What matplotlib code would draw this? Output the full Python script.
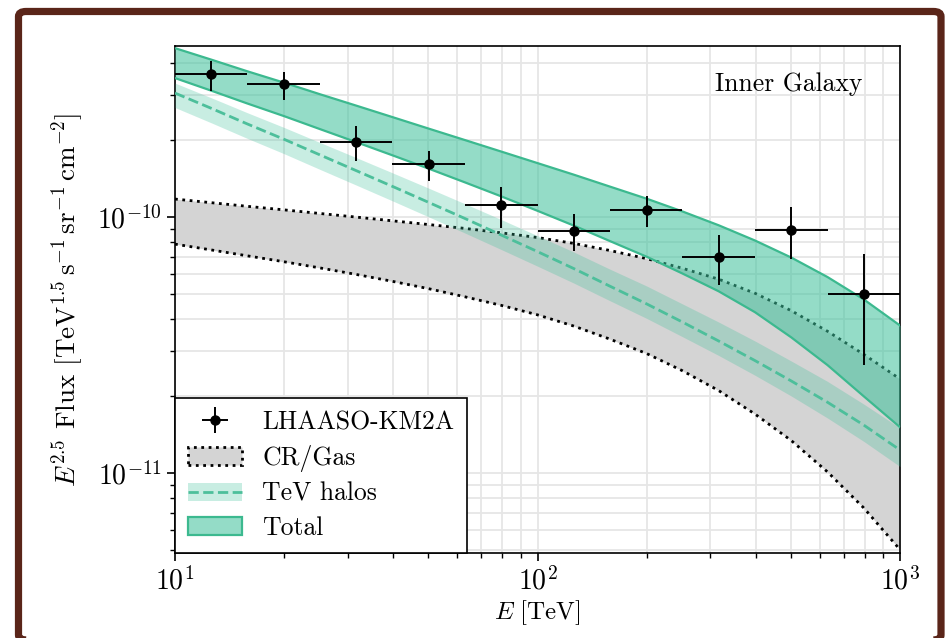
import matplotlib
matplotlib.use("Agg")
import numpy as np
import matplotlib.pyplot as plt
from matplotlib.patches import Patch, FancyBboxPatch
from matplotlib.lines import Line2D
from matplotlib.ticker import LogLocator, NullFormatter
from matplotlib.colors import to_rgba

plt.rcParams.update({
    "font.family": "serif",
    "font.serif": ["cmr10"],
    "mathtext.fontset": "cm",
    "axes.formatter.use_mathtext": True,
    "font.size": 18,
})

# LHAASO-KM2A points (E^2.5 flux), with energy bin edges
E_pts = [12.6, 20.0, 31.6, 50.1, 79.4, 126, 200, 316, 501, 794]
E_lo = [10.0, 15.8, 25.1, 39.8, 63.1, 100, 158, 251, 398, 631]
E_hi = [15.8, 25.1, 39.8, 63.1, 100, 158, 251, 398, 631, 1000]
F_pts = [3.62e-10, 3.30e-10, 1.97e-10, 1.61e-10, 1.11e-10, 8.84e-11, 1.065e-10, 6.96e-11, 8.9e-11, 4.99e-11]
F_up = [4.08e-10, 3.69e-10, 2.27e-10, 1.815e-10, 1.306e-10, 1.027e-10, 1.208e-10, 8.5e-11, 1.09e-10, 7.15e-11]
F_dn = [3.10e-10, 2.86e-10, 1.66e-10, 1.38e-10, 9.03e-11, 7.38e-11, 9.16e-11, 5.41e-11, 6.84e-11, 2.64e-11]

# model bands, in units of 1e-10
E_model = [10, 12.6, 15.8, 20, 25.1, 31.6, 39.8, 50.1, 63.1, 79.4, 100,
           126, 158, 200, 251, 316, 398, 501, 631, 794, 1000]
total_hi = [4.571, 4.121, 3.715, 3.350, 3.020, 2.726, 2.458, 2.216, 1.999, 1.803, 1.625,
            1.464, 1.317, 1.180, 1.052, 0.929, 0.810, 0.695, 0.583, 0.477, 0.377]
total_lo = [3.492, 3.117, 2.781, 2.479, 2.207, 1.963, 1.743, 1.546, 1.366, 1.205, 1.058,
            0.926, 0.807, 0.700, 0.602, 0.513, 0.425, 0.339, 0.264, 0.1995, 0.151]
halo_mid = [3.051, 2.659, 2.314, 2.013, 1.750, 1.519, 1.318, 1.141, 0.987, 0.851, 0.733,
            0.629, 0.538, 0.458, 0.389, 0.328, 0.275, 0.229, 0.189, 0.154, 0.123]
halo_hi = [3.338, 2.924, 2.560, 2.239, 1.957, 1.708, 1.489, 1.297, 1.127, 0.978, 0.846,
           0.730, 0.627, 0.538, 0.458, 0.389, 0.328, 0.274, 0.228, 0.186, 0.150]
halo_lo = [2.679, 2.334, 2.032, 1.768, 1.536, 1.334, 1.157, 1.002, 0.866, 0.747, 0.643,
           0.552, 0.472, 0.402, 0.341, 0.288, 0.241, 0.200, 0.164, 0.133, 0.106]
cr_hi = [1.176, 1.138, 1.102, 1.067, 1.033, 1.000, 0.967, 0.935, 0.903, 0.868, 0.832,
         0.789, 0.741, 0.688, 0.631, 0.572, 0.504, 0.431, 0.358, 0.291, 0.233]
cr_lo = [0.784, 0.744, 0.706, 0.669, 0.633, 0.597, 0.561, 0.525, 0.488, 0.452, 0.415,
         0.375, 0.334, 0.293, 0.251, 0.210, 0.170, 0.134, 0.101, 0.0731, 0.0502]
UNIT = 1e-10

GREEN = "#3cc09a"
GREEN_EDGE = "#3cb98f"
HALO_LINE = "#4dbf9b"
GREY = "#d4d4d4"

fig = plt.figure(figsize=(9.48, 6.38), dpi=100)
ax = fig.add_axes([0.1846, 0.1332, 0.7648, 0.7947])

E = np.array(E_model)
u = lambda v: np.array(v) * UNIT

# CR/Gas
ax.fill_between(E, u(cr_lo), u(cr_hi), color=GREY, lw=0, zorder=1)
for edge in (cr_lo, cr_hi):
    ax.plot(E, u(edge), color="k", ls=":", lw=2, zorder=2)

# TeV halos
ax.fill_between(E, u(halo_lo), u(halo_hi), color=to_rgba(GREEN, 0.28), lw=0, zorder=3)
ax.plot(E, u(halo_mid), color=HALO_LINE, ls="--", lw=2, zorder=3)

# Total
ax.fill_between(E, u(total_lo), u(total_hi), color=to_rgba(GREEN, 0.55), lw=0, zorder=4)
for edge in (total_lo, total_hi):
    ax.plot(E, u(edge), color=GREEN_EDGE, lw=1.6, zorder=4)

Ep = np.array(E_pts); Fp = np.array(F_pts)
xerr = [Ep - np.array(E_lo), np.array(E_hi) - Ep]
yerr = [Fp - np.array(F_dn), np.array(F_up) - Fp]
h_data = ax.errorbar(Ep, Fp, xerr=xerr, yerr=yerr, fmt="o", color="k", ms=6.5,
                     elinewidth=1.4, capsize=0, zorder=6)

ax.set_xscale("log")
ax.set_yscale("log")
ax.set_xlim(10, 1000)
ax.set_ylim(4.87e-12, 4.66e-10)
ax.set_xticks([10, 100, 1000])
ax.set_yticks([1e-11, 1e-10])
ax.yaxis.set_minor_locator(LogLocator(base=10, subs=np.arange(2, 10)))
ax.yaxis.set_minor_formatter(NullFormatter())
ax.xaxis.set_minor_formatter(NullFormatter())
ax.grid(True, which="both", color="#e6e6e6", lw=1.3)
ax.set_axisbelow(True)
for s in ax.spines.values():
    s.set_linewidth(1.2)
ax.tick_params(which="major", length=6, width=1.2, labelsize=20)
ax.tick_params(which="minor", length=3.5, width=1.0)

ax.set_xlabel(r"$E\ [\mathrm{TeV}]$", fontsize=18, labelpad=2)
ax.set_ylabel(r"$E^{2.5}$ Flux $[\mathrm{TeV}^{1.5}\,\mathrm{s}^{-1}\,\mathrm{sr}^{-1}\,\mathrm{cm}^{-2}]$",
              fontsize=19.5, labelpad=8)
ax.text(0.948, 0.925, "Inner Galaxy", transform=ax.transAxes, ha="right", va="center",
        fontsize=18.5, zorder=7)

h_cr = Patch(facecolor=GREY, edgecolor="k", linestyle=":", linewidth=2)
h_halo = (Patch(facecolor=to_rgba(GREEN, 0.28), edgecolor="none"),
          Line2D([], [], color=HALO_LINE, ls="--", lw=2))
h_tot = Patch(facecolor=to_rgba(GREEN, 0.55), edgecolor=GREEN_EDGE, linewidth=1.6)
leg = ax.legend([h_data, h_cr, h_halo, h_tot], ["LHAASO-KM2A", "CR/Gas", "TeV halos", "Total"],
                loc="lower left", bbox_to_anchor=(0, 0), borderaxespad=0, fontsize=18.5,
                fancybox=False, framealpha=1, edgecolor="k", handlelength=2.1,
                handleheight=0.7, handletextpad=0.8, labelspacing=0.41, borderpad=0.5)
leg.get_frame().set_linewidth(1.2)
leg.set_zorder(10)

# dark frame around the figure
frame = FancyBboxPatch((18.5 / 948, -0.003), (941 - 18.5) / 948, 0.985,
                       boxstyle="round,pad=0,rounding_size=0.008",
                       transform=fig.transFigure, facecolor="none",
                       edgecolor="#5a2519", linewidth=5.2, clip_on=False)
fig.add_artist(frame)

fig.savefig("out.png", dpi=100)
